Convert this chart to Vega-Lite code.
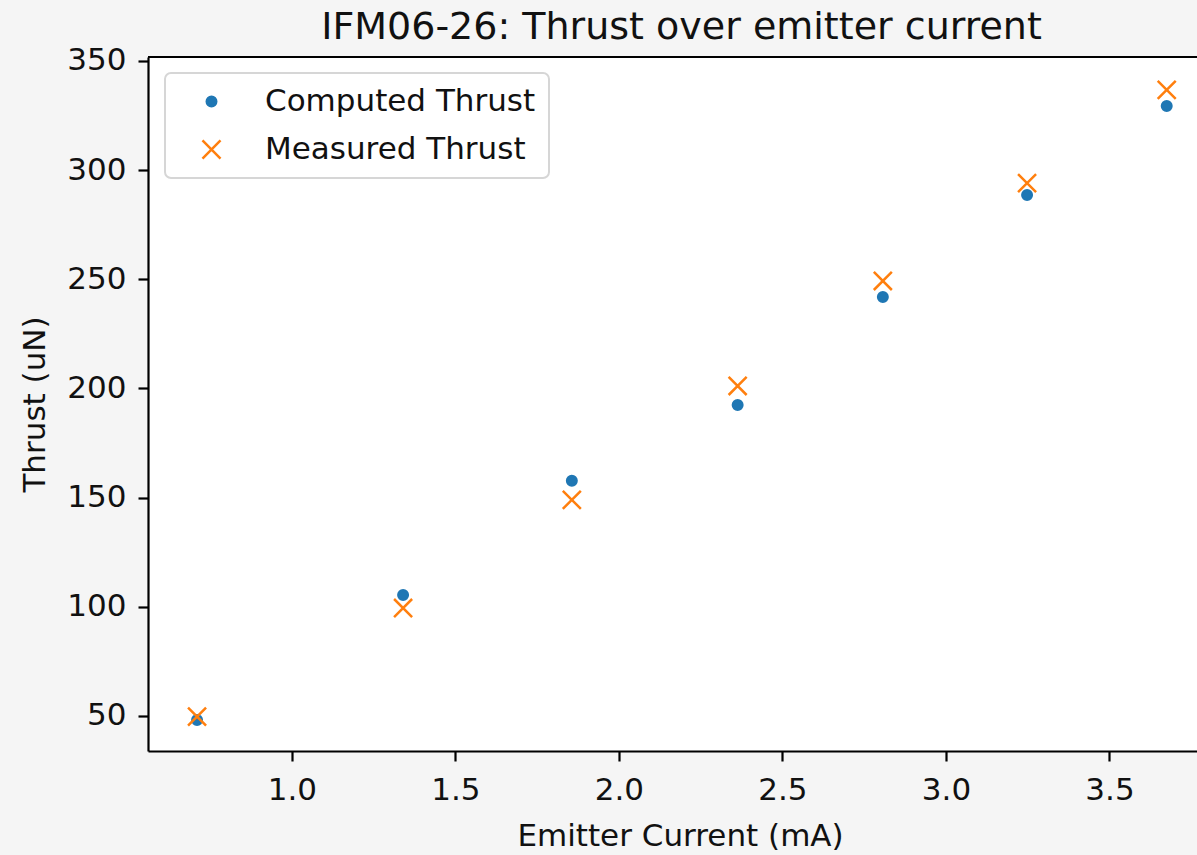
{
  "$schema": "https://vega.github.io/schema/vega-lite/v6.json",
  "width": 1049,
  "height": 694,
  "autosize": {"type": "none"},
  "padding": {"left": 148, "top": 57, "right": 0, "bottom": 104},
  "background": "#f5f5f5",
  "title": {
    "text": "IFM06-26: Thrust over emitter current",
    "font": "DejaVu Sans",
    "fontSize": 38,
    "fontWeight": "normal",
    "color": "#111111",
    "anchor": "middle",
    "frame": "group",
    "baseline": "alphabetic",
    "offset": 0,
    "dx": 9,
    "dy": 32
  },
  "config": {
    "view": {"stroke": null, "fill": "white"},
    "font": "DejaVu Sans",
    "axis": {
      "grid": false,
      "domainColor": "black",
      "domainWidth": 2.2,
      "tickColor": "black",
      "tickWidth": 2.2,
      "tickSize": 10,
      "labelFont": "DejaVu Sans",
      "labelFontSize": 31,
      "labelColor": "#111111",
      "labelOverlap": false,
      "titleFont": "DejaVu Sans",
      "titleFontSize": 31,
      "titleFontWeight": "normal",
      "titleColor": "#111111"
    },
    "legend": {
      "orient": "none",
      "legendX": 17,
      "legendY": 16,
      "strokeColor": "#d6d6d6",
      "strokeWidth": 2,
      "fillColor": "white",
      "cornerRadius": 6,
      "labelFont": "DejaVu Sans",
      "labelFontSize": 31,
      "labelColor": "#111111",
      "labelLimit": 500,
      "padding": 13,
      "symbolSize": 90,
      "symbolStrokeWidth": 2.5,
      "symbolOffset": 18,
      "labelOffset": 38,
      "rowPadding": 16
    }
  },
  "layer": [
    {
      "data": {
        "values": [
          {"series": "Computed Thrust", "current": 0.71, "thrust": 48.1},
          {"series": "Computed Thrust", "current": 1.34, "thrust": 105.4},
          {"series": "Computed Thrust", "current": 1.856, "thrust": 157.7},
          {"series": "Computed Thrust", "current": 2.363, "thrust": 192.4},
          {"series": "Computed Thrust", "current": 2.807, "thrust": 241.9},
          {"series": "Computed Thrust", "current": 3.248, "thrust": 288.6},
          {"series": "Computed Thrust", "current": 3.675, "thrust": 329.4},
          {"series": "Measured Thrust", "current": 0.71, "thrust": 49.6},
          {"series": "Measured Thrust", "current": 1.34, "thrust": 99.4},
          {"series": "Measured Thrust", "current": 1.856, "thrust": 148.9},
          {"series": "Measured Thrust", "current": 2.363, "thrust": 201.1},
          {"series": "Measured Thrust", "current": 2.807, "thrust": 249.2},
          {"series": "Measured Thrust", "current": 3.248, "thrust": 294.0},
          {"series": "Measured Thrust", "current": 3.675, "thrust": 336.7}
        ]
      },
      "mark": {"type": "point", "size": 90, "strokeWidth": 2.5, "opacity": 1},
      "encoding": {
        "x": {
          "field": "current",
          "type": "quantitative",
          "scale": {"domain": [0.56, 3.7676], "nice": false, "zero": false},
          "axis": {
            "values": [1, 1.5, 2, 2.5, 3, 3.5],
            "format": ".1f",
            "labelBaseline": "alphabetic",
            "labelPadding": 38,
            "labelFlush": false,
            "title": "Emitter Current (mA)",
            "titleBaseline": "alphabetic",
            "titleX": 532,
            "titleY": 94
          }
        },
        "y": {
          "field": "thrust",
          "type": "quantitative",
          "scale": {"domain": [33.9, 351.8], "nice": false, "zero": false},
          "axis": {
            "values": [50, 100, 150, 200, 250, 300, 350],
            "labelPadding": 12,
            "title": "Thrust (uN)",
            "titleBaseline": "alphabetic",
            "titleAngle": 270,
            "titleX": -104,
            "titleY": 347
          }
        },
        "shape": {
          "field": "series",
          "type": "nominal",
          "scale": {
            "domain": ["Computed Thrust", "Measured Thrust"],
            "range": ["circle", "M-1.9,-1.9L1.9,1.9M-1.9,1.9L1.9,-1.9"]
          },
          "legend": {"title": null}
        },
        "stroke": {
          "field": "series",
          "type": "nominal",
          "scale": {
            "domain": ["Computed Thrust", "Measured Thrust"],
            "range": ["#1f77b4", "#ff7f0e"]
          },
          "legend": {"title": null}
        },
        "fill": {
          "field": "series",
          "type": "nominal",
          "scale": {
            "domain": ["Computed Thrust", "Measured Thrust"],
            "range": ["#1f77b4", "transparent"]
          },
          "legend": {"title": null}
        }
      }
    },
    {
      "data": {"values": [{}]},
      "mark": {"type": "rule", "color": "black", "strokeWidth": 2.2},
      "encoding": {"y": {"datum": 351.8}}
    }
  ]
}
